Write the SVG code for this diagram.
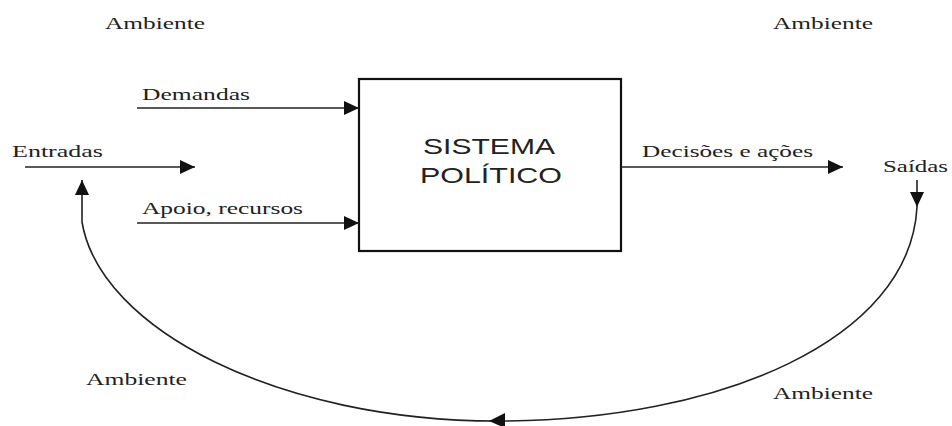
<svg xmlns="http://www.w3.org/2000/svg" width="952" height="426" viewBox="0 0 952 426">
<style>
.lbl{font-family:"Liberation Serif","Times New Roman",serif;font-size:17px;fill:#222}
.box{font-family:"Liberation Sans",Arial,sans-serif;font-size:22px;fill:#222}
.ln{stroke:#222;stroke-width:1.6;fill:none}
.ah{fill:#111}
</style>
<defs>
<marker id="arr" markerUnits="userSpaceOnUse" markerWidth="16" markerHeight="16" refX="15" refY="8" orient="auto">
<path d="M0,1 L15,8 L0,15 Z" class="ah"/>
</marker>
</defs>
<rect width="952" height="426" fill="#fff"/>
<g id="ambiente-labels">
<text class="lbl" x="105" y="29" textLength="100" lengthAdjust="spacingAndGlyphs">Ambiente</text>
<text class="lbl" x="773" y="29" textLength="100" lengthAdjust="spacingAndGlyphs">Ambiente</text>
<text class="lbl" x="86" y="385" textLength="101" lengthAdjust="spacingAndGlyphs">Ambiente</text>
<text class="lbl" x="773" y="399" textLength="100" lengthAdjust="spacingAndGlyphs">Ambiente</text>
</g>
<g id="sistema">
<rect x="359" y="79" width="262" height="172" fill="#fff" stroke="#111" stroke-width="2.2"/>
<text class="box" x="489" y="154" text-anchor="middle" textLength="132" lengthAdjust="spacingAndGlyphs">SISTEMA</text>
<text class="box" x="491" y="183" text-anchor="middle" textLength="142" lengthAdjust="spacingAndGlyphs">POLÍTICO</text>
</g>
<g id="entradas">
<text class="lbl" x="12" y="157" textLength="91" lengthAdjust="spacingAndGlyphs">Entradas</text>
</g>
<g id="saidas">
<text class="lbl" x="883" y="172" textLength="65" lengthAdjust="spacingAndGlyphs">Saídas</text>
</g>
<g id="connectors">
<line class="ln" x1="137" y1="108" x2="359" y2="108" marker-end="url(#arr)"/>
<text class="lbl" x="142" y="100" textLength="108" lengthAdjust="spacingAndGlyphs">Demandas</text>
<line class="ln" x1="137" y1="223" x2="359" y2="223" marker-end="url(#arr)"/>
<text class="lbl" x="142" y="214" textLength="161" lengthAdjust="spacingAndGlyphs">Apoio, recursos</text>
<line class="ln" x1="25" y1="167" x2="195" y2="167" marker-end="url(#arr)"/>
<line class="ln" x1="621" y1="167" x2="843" y2="167" marker-end="url(#arr)"/>
<text class="lbl" x="642" y="157" textLength="171" lengthAdjust="spacingAndGlyphs">Decisões e ações</text>
<line class="ln" x1="917" y1="180" x2="917" y2="207" marker-end="url(#arr)"/>
<path class="ln" d="M917,207 C910,340 720,421 497,421 C280,421 100,330 82,222 L82,180" marker-end="url(#arr)"/>
<polygon class="ah" points="489,421 505,413 505,428"/>
</g>
</svg>
